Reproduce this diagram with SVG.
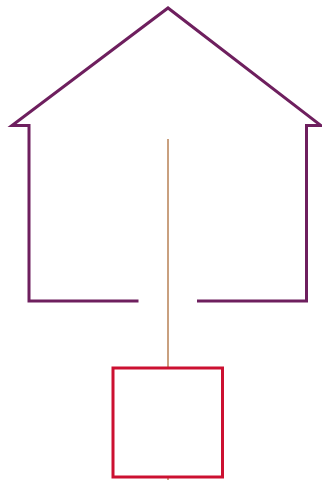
<svg xmlns="http://www.w3.org/2000/svg" width="322" height="480" viewBox="0 0 322 480">
<style>
.house{fill:none;stroke:#6e1f5e;stroke-width:3;stroke-linejoin:miter;stroke-linecap:butt}
.conn{fill:none;stroke:#c9a07f;stroke-width:2}
.box{fill:#ffffff;stroke:#cc1031;stroke-width:3}
</style>
<rect width="322" height="480" fill="#ffffff"/>
<g id="connectors">
<line class="conn" x1="168" y1="139" x2="168" y2="480"/>
</g>
<g id="house">
<path class="house" d="M138.5,301 L29,301 L29,125.5 L12,125.5 L168,8 L321,125.5 L306.5,125.5 L306.5,301 L197,301"/>
</g>
<g id="box">
<rect class="box" x="113" y="368" width="109.5" height="109"/>
</g>
</svg>
